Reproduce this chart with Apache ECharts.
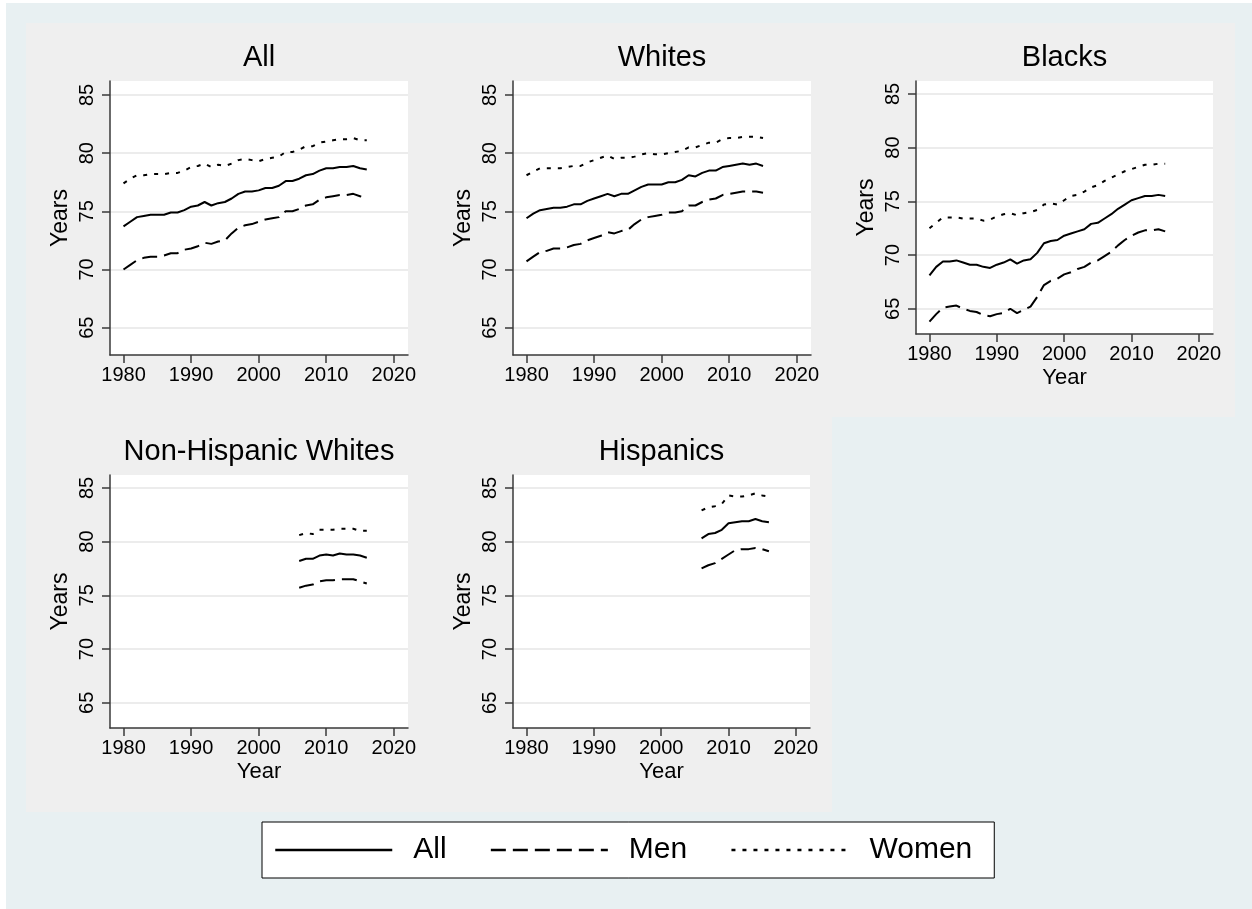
<!DOCTYPE html>
<html>
<head>
<meta charset="utf-8">
<script src="https://cdn.jsdelivr.net/npm/echarts@6/dist/echarts.min.js"></script>
<style>
  html, body { margin: 0; padding: 0; background: #ffffff; }
  #chart { width: 1252px; height: 909px; }
</style>
</head>
<body>
<div id="chart"></div>
<script>
// Period life expectancy at birth (years), by group and sex.
const yearsFull = [1980, 1981, 1982, 1983, 1984, 1985, 1986, 1987, 1988, 1989,
  1990, 1991, 1992, 1993, 1994, 1995, 1996, 1997, 1998, 1999,
  2000, 2001, 2002, 2003, 2004, 2005, 2006, 2007, 2008, 2009,
  2010, 2011, 2012, 2013, 2014, 2015, 2016];
const yearsTo2015 = [1980, 1981, 1982, 1983, 1984, 1985, 1986, 1987, 1988, 1989,
  1990, 1991, 1992, 1993, 1994, 1995, 1996, 1997, 1998, 1999,
  2000, 2001, 2002, 2003, 2004, 2005, 2006, 2007, 2008, 2009,
  2010, 2011, 2012, 2013, 2014, 2015];
const yearsRecent = [2006, 2007, 2008, 2009, 2010, 2011, 2012, 2013, 2014, 2015, 2016];

const allTotal = [73.7, 74.1, 74.5, 74.6, 74.7, 74.7, 74.7, 74.9, 74.9, 75.1,
  75.4, 75.5, 75.8, 75.5, 75.7, 75.8, 76.1, 76.5, 76.7, 76.7,
  76.8, 77.0, 77.0, 77.2, 77.6, 77.6, 77.8, 78.1, 78.2, 78.5,
  78.7, 78.7, 78.8, 78.8, 78.9, 78.7, 78.6];
const allMen = [70.0, 70.4, 70.8, 71.0, 71.1, 71.1, 71.2, 71.4, 71.4, 71.7,
  71.8, 72.0, 72.3, 72.2, 72.4, 72.5, 73.1, 73.6, 73.8, 73.9,
  74.1, 74.3, 74.4, 74.5, 75.0, 75.0, 75.2, 75.5, 75.6, 76.0,
  76.2, 76.3, 76.4, 76.4, 76.5, 76.3, 76.1];
const allWomen = [77.4, 77.8, 78.1, 78.1, 78.2, 78.2, 78.2, 78.3, 78.3, 78.5,
  78.8, 78.9, 79.1, 78.8, 79.0, 78.9, 79.1, 79.4, 79.5, 79.4,
  79.3, 79.5, 79.6, 79.7, 80.1, 80.1, 80.3, 80.6, 80.6, 80.9,
  81.0, 81.1, 81.2, 81.2, 81.3, 81.1, 81.1];

const whitesTotal = [74.4, 74.8, 75.1, 75.2, 75.3, 75.3, 75.4, 75.6, 75.6, 75.9,
  76.1, 76.3, 76.5, 76.3, 76.5, 76.5, 76.8, 77.1, 77.3, 77.3,
  77.3, 77.5, 77.5, 77.7, 78.1, 78.0, 78.3, 78.5, 78.5, 78.8,
  78.9, 79.0, 79.1, 79.0, 79.1, 78.9];
const whitesMen = [70.7, 71.1, 71.5, 71.6, 71.8, 71.8, 71.9, 72.1, 72.2, 72.5,
  72.7, 72.9, 73.2, 73.1, 73.3, 73.4, 73.9, 74.3, 74.5, 74.6,
  74.7, 74.9, 74.9, 75.0, 75.5, 75.5, 75.8, 76.0, 76.1, 76.4,
  76.5, 76.6, 76.7, 76.7, 76.7, 76.6];
const whitesWomen = [78.1, 78.4, 78.7, 78.7, 78.7, 78.7, 78.8, 78.9, 78.9, 79.2,
  79.4, 79.6, 79.8, 79.5, 79.6, 79.6, 79.7, 79.9, 80.0, 79.9,
  79.9, 80.0, 80.1, 80.2, 80.5, 80.5, 80.7, 80.9, 80.9, 81.2,
  81.3, 81.3, 81.4, 81.4, 81.4, 81.3];

const blacksTotal = [68.1, 68.9, 69.4, 69.4, 69.5, 69.3, 69.1, 69.1, 68.9, 68.8,
  69.1, 69.3, 69.6, 69.2, 69.5, 69.6, 70.2, 71.1, 71.3, 71.4,
  71.8, 72.0, 72.2, 72.4, 72.9, 73.0, 73.4, 73.8, 74.3, 74.7,
  75.1, 75.3, 75.5, 75.5, 75.6, 75.5];
const blacksMen = [63.8, 64.5, 65.1, 65.2, 65.3, 65.0, 64.8, 64.7, 64.4, 64.3,
  64.5, 64.6, 65.0, 64.6, 64.9, 65.2, 66.1, 67.2, 67.6, 67.8,
  68.2, 68.4, 68.7, 68.9, 69.3, 69.5, 69.9, 70.3, 70.9, 71.4,
  71.8, 72.1, 72.3, 72.3, 72.4, 72.2];
const blacksWomen = [72.5, 73.0, 73.5, 73.5, 73.5, 73.4, 73.4, 73.4, 73.2, 73.3,
  73.6, 73.8, 73.9, 73.7, 73.9, 74.0, 74.2, 74.7, 74.8, 74.7,
  75.1, 75.5, 75.6, 75.9, 76.3, 76.5, 76.9, 77.2, 77.5, 77.8,
  78.0, 78.2, 78.4, 78.4, 78.5, 78.5];

const nonHispWhitesTotal = [78.2, 78.4, 78.4, 78.7, 78.8, 78.7, 78.9, 78.8, 78.8, 78.7, 78.5];
const nonHispWhitesMen = [75.7, 75.9, 76.0, 76.3, 76.4, 76.4, 76.5, 76.5, 76.5, 76.3, 76.1];
const nonHispWhitesWomen = [80.6, 80.8, 80.7, 81.1, 81.1, 81.1, 81.2, 81.2, 81.2, 81.0, 81.0];

const hispanicsTotal = [80.3, 80.7, 80.8, 81.1, 81.7, 81.8, 81.9, 81.9, 82.1, 81.9, 81.8];
const hispanicsMen = [77.5, 77.8, 78.0, 78.4, 78.8, 79.2, 79.3, 79.3, 79.4, 79.3, 79.1];
const hispanicsWomen = [82.9, 83.2, 83.3, 83.5, 84.3, 84.2, 84.2, 84.3, 84.5, 84.3, 84.2];

const panelTitles = ['All', 'Whites', 'Blacks', 'Non-Hispanic Whites', 'Hispanics'];
const seriesNames = ['All', 'Men', 'Women'];
const yTicks = [65, 70, 75, 80, 85];
const xTicks = [1980, 1990, 2000, 2010, 2020];

const FONT = '"Liberation Sans", Arial, Helvetica, sans-serif';
const INK = '#000000';
const AXIS_INK = '#3a3a3a';

const panels = [
  { years: yearsFull,   values: [allTotal, allMen, allWomen] },
  { years: yearsTo2015, values: [whitesTotal, whitesMen, whitesWomen] },
  { years: yearsTo2015, values: [blacksTotal, blacksMen, blacksWomen] },
  { years: yearsRecent, values: [nonHispWhitesTotal, nonHispWhitesMen, nonHispWhitesWomen] },
  { years: yearsRecent, values: [hispanicsTotal, hispanicsMen, hispanicsWomen] }
];

// Plot-region boxes of the 3 x 2 panel layout; panels that carry the
// "Year" axis title are shorter to leave room for it.
const boxes = [
  { left: 110, top: 81,  width: 298, height: 274, xTitle: false },
  { left: 513, top: 81,  width: 298, height: 274, xTitle: false },
  { left: 916, top: 81,  width: 297, height: 253, xTitle: true },
  { left: 110, top: 475, width: 298, height: 253, xTitle: true },
  { left: 513, top: 475, width: 297, height: 253, xTitle: true }
];
const titleTops = [43, 43, 43, 437, 437];

const lineTypes = ['solid', [15, 7], [4, 7]];

const grid = [], xAxis = [], yAxis = [], title = [], series = [];

boxes.forEach((b, i) => {
  grid.push({
    left: b.left, top: b.top, width: b.width, height: b.height,
    show: true, backgroundColor: '#ffffff', borderWidth: 0,
    outerBoundsMode: 'none', containLabel: false
  });
  title.push({
    text: panelTitles[i],
    left: b.left + b.width / 2,
    top: titleTops[i],
    textAlign: 'center',
    padding: 0,
    textStyle: { fontFamily: FONT, fontSize: 29, fontWeight: 'normal', color: INK }
  });
  xAxis.push({
    type: 'value', gridIndex: i, min: 1978, max: 2022.1,
    name: b.xTitle ? 'Year' : '',
    nameLocation: 'middle', nameGap: 33,
    nameTextStyle: { fontFamily: FONT, fontSize: 22, color: INK },
    axisLine: { show: true, onZero: false, lineStyle: { color: AXIS_INK, width: 1.5 } },
    axisTick: { show: true, customValues: xTicks, length: 8, lineStyle: { color: AXIS_INK, width: 1.5 } },
    axisLabel: { customValues: xTicks, margin: 10, fontFamily: FONT, fontSize: 20, color: INK,
                 formatter: v => String(v) },
    splitLine: { show: false }
  });
  yAxis.push({
    type: 'value', gridIndex: i, min: 62.65, max: 86.2,
    name: 'Years', nameLocation: 'middle', nameGap: 38,
    nameTextStyle: { fontFamily: FONT, fontSize: 23, color: INK },
    axisLine: { show: true, onZero: false, lineStyle: { color: AXIS_INK, width: 1.5 } },
    axisTick: { show: true, customValues: yTicks, length: 8, lineStyle: { color: AXIS_INK, width: 1.5 } },
    axisLabel: { customValues: yTicks, rotate: 90, margin: 13, fontFamily: FONT, fontSize: 20, color: INK,
                 formatter: v => String(v) },
    splitLine: { show: true, customValues: yTicks, lineStyle: { color: '#e6e6e6', width: 1.5 } }
  });
  const p = panels[i];
  p.values.forEach((vals, k) => {
    series.push({
      name: seriesNames[k],
      type: 'line',
      xAxisIndex: i, yAxisIndex: i,
      data: p.years.map((yr, j) => [yr, vals[j]]),
      symbol: 'none', showSymbol: false, smooth: false,
      lineStyle: { color: INK, width: 2, type: lineTypes[k] },
      itemStyle: { color: INK },
      emphasis: { disabled: true },
      silent: true,
      z: 3
    });
  });
});

const option = {
  animation: false,
  backgroundColor: '#ffffff',
  graphic: [
    { type: 'rect', z: -10, silent: true, shape: { x: 6, y: 3, width: 1246, height: 906 }, style: { fill: '#e8f0f2' } },
    { type: 'rect', z: -9, silent: true, shape: { x: 26, y: 23, width: 1209, height: 394 }, style: { fill: '#efefef' } },
    { type: 'rect', z: -9, silent: true, shape: { x: 26, y: 417, width: 806, height: 395 }, style: { fill: '#efefef' } }
  ],
  title: title,
  legend: {
    data: seriesNames,
    left: 262, top: 822,
    orient: 'horizontal',
    itemWidth: 117, itemHeight: 14, itemGap: 43,
    padding: [13, 22, 13, 12],
    backgroundColor: '#ffffff', borderColor: '#000000', borderWidth: 1, borderRadius: 0,
    selectedMode: false,
    itemStyle: { opacity: 0 },
    lineStyle: { width: 2.5 },
    textStyle: { fontFamily: FONT, fontSize: 30, color: INK, padding: [0, 0, 0, 16] }
  },
  grid: grid,
  xAxis: xAxis,
  yAxis: yAxis,
  series: series
};

const chart = echarts.init(document.getElementById('chart'), null, { renderer: 'canvas' });
chart.setOption(option);
</script>
</body>
</html>
